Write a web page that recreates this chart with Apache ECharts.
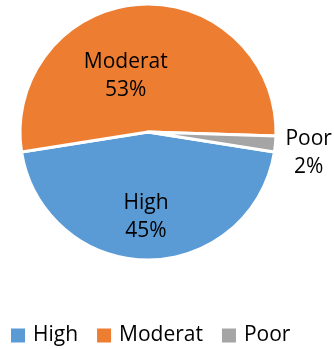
<!DOCTYPE html>
<html>
<head>
<meta charset="utf-8">
<script src="https://cdn.jsdelivr.net/npm/echarts@6/dist/echarts.min.js"></script>
<style>
  html, body { margin: 0; padding: 0; background: #fff; }
  #chart { width: 334px; height: 349px; }
</style>
</head>
<body>
<div id="chart"></div>
<script>
// Share of responses by rating level
var categories = ['High', 'Moderat', 'Poor'];
var shares = [45, 53, 2];
var colors = ['#5B9BD5', '#ED7D31', '#A5A5A5'];

// Label nudges away from the default inside position
var labelShift = [[-2, 18], [-18, 11], [94, 15]];

var chart = echarts.init(document.getElementById('chart'), null, { renderer: 'canvas' });

chart.setOption({
  animation: false,
  color: colors,
  legend: {
    top: 320,
    left: 6,
    itemWidth: 14,
    itemHeight: 14,
    itemGap: 19,
    icon: 'rect',
    itemStyle: { borderWidth: 0 },
    textStyle: {
      fontFamily: 'Open Sans',
      fontSize: 21,
      color: '#000',
      padding: [0, 0, 0, 3]
    },
    data: categories
  },
  series: [{
    type: 'pie',
    center: [148, 132],
    radius: 128,
    startAngle: -9,
    clockwise: true,
    avoidLabelOverlap: false,
    itemStyle: { borderColor: '#fff', borderWidth: 3 },
    label: {
      show: true,
      position: 'inside',
      formatter: '{b}\n{c}%',
      fontFamily: 'Open Sans',
      fontSize: 21,
      lineHeight: 28,
      color: '#000'
    },
    labelLine: { show: false },
    labelLayout: function (p) {
      var s = labelShift[p.dataIndex];
      return { dx: s[0], dy: s[1] };
    },
    emphasis: { disabled: true },
    data: categories.map(function (c, i) {
      return { name: c, value: shares[i] };
    })
  }]
});
</script>
</body>
</html>
